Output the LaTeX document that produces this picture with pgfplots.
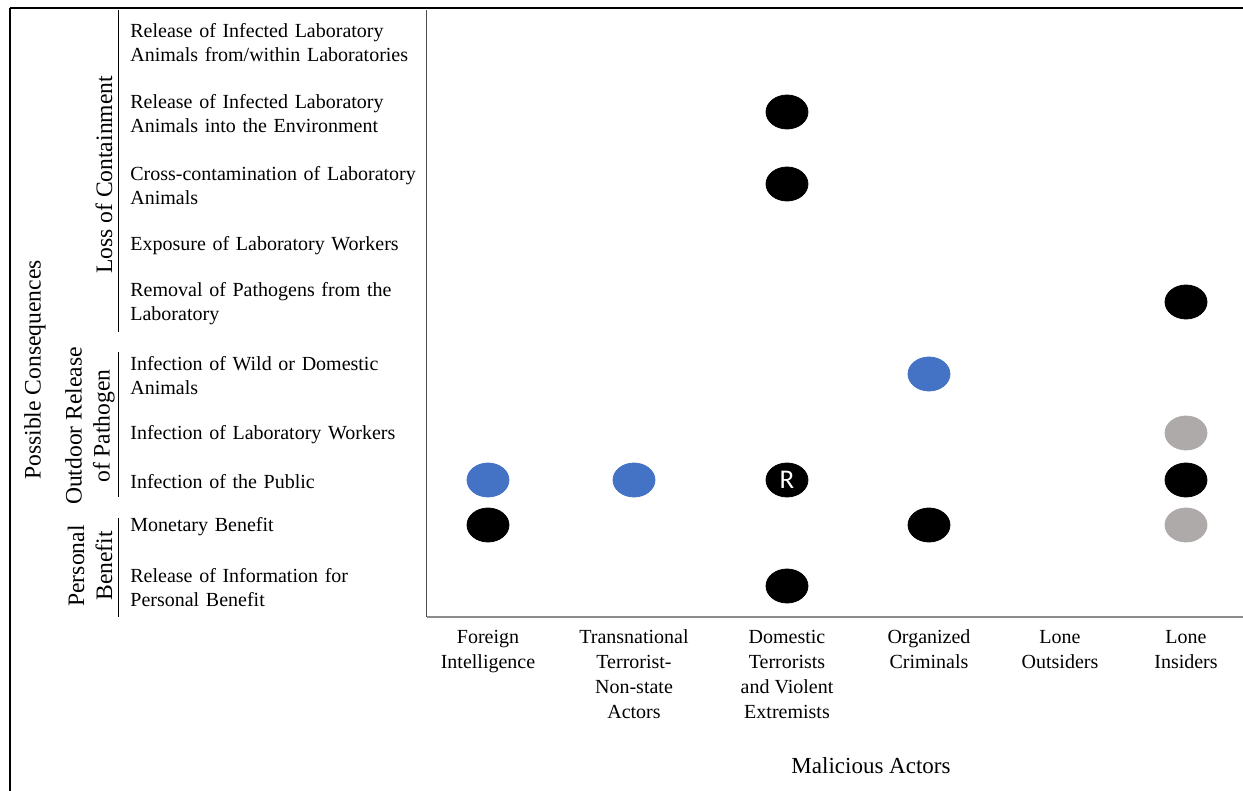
\documentclass[border=0pt]{standalone}
\usepackage{pgfplots}
\pgfplotsset{compat=1.18}
\usepackage{fontspec}
\setmainfont{Liberation Serif}
\newfontfamily\rfont{Carlito}
\definecolor{myblue}{HTML}{4472C4}
\definecolor{mygrey}{HTML}{AEAAAA}
\begin{document}
\begin{tikzpicture}
\useasboundingbox (0,0) rectangle (621.5pt,-395.5pt);
% outer frame (partial)
\draw[line width=1pt] (4.75pt,-4pt) -- (621.5pt,-4pt);
\draw[line width=1pt] (4.75pt,-4pt) -- (4.75pt,-395.5pt);
% group brackets
\draw[line width=0.5pt] (59pt,-5pt) -- (59pt,-166pt);
\draw[line width=0.5pt] (59pt,-176pt) -- (59pt,-248.5pt);
\draw[line width=0.5pt] (59pt,-259pt) -- (59pt,-308.5pt);
\begin{scope}[font=\rmfamily\fontsize{11.8}{14}\selectfont]
\node[rotate=90, align=center, inner sep=0pt] at (52pt,-87.5pt) {Loss of Containment};
\node[rotate=90, align=center, inner sep=0pt] at (45pt,-213pt) {Outdoor Release\\of Pathogen};
\node[rotate=90, align=center, inner sep=0pt] at (45pt,-283pt) {Personal\\Benefit};
\node[rotate=90, align=center, inner sep=0pt] at (17.5pt,-185pt) {Possible Consequences};
\end{scope}
\node[inner sep=0pt, font=\rmfamily\fontsize{11.5}{13}\selectfont] at (435.5pt,-383pt) {Malicious Actors};
\begin{axis}[
  at={(213.5pt,-308.5pt)}, anchor=south west,
  scale only axis, width=408pt, height=303.5pt,
  xmin=427, xmax=1243, ymin=-617, ymax=-10,
  axis x line*=bottom, axis y line*=left,
  x axis line style={draw=black!45, line width=1pt},
  y axis line style={draw=black!70, line width=0.5pt},
  major tick length=0pt,
  clip=false,
  xtick={488,634,787,929,1060,1186},
  xticklabels={{Foreign\\Intelligence},{Transnational\\Terrorist-\\Non-state\\Actors},{Domestic\\Terrorists\\and Violent\\Extremists},{Organized\\Criminals},{Lone\\Outsiders},{Lone\\Insiders}},
  xticklabel style={align=center, anchor=north, font=\rmfamily\fontsize{10}{12.5}\selectfont, yshift=-3pt},
  ytick={-41,-112,-184,-244,-302,-374,-433,-480,-525,-586},
  yticklabels={{Release of Infected Laboratory\\Animals from/within Laboratories},
    {Release of Infected Laboratory\\Animals into the Environment},
    {Cross-contamination of Laboratory\\Animals},
    {Exposure of Laboratory Workers},
    {Removal of Pathogens from the\\Laboratory},
    {Infection of Wild or Domestic\\Animals},
    {Infection of Laboratory Workers},
    {Infection of the Public},
    {Monetary Benefit},
    {Release of Information for\\Personal Benefit}},
  yticklabel style={anchor=west, align=left, text width=148pt, inner sep=0pt, xshift=-148.5pt, yshift=-1pt, font=\rmfamily\fontsize{10}{12}\selectfont},
]
\addplot[only marks, mark=*, mark size=8.5pt, mark options={xscale=1.235, draw=black, fill=black}]
  coordinates {(787,-112) (787,-184) (1186,-302) (1186,-480) (488,-525) (929,-525) (787,-586)};
\addplot[only marks, mark=*, mark size=8.5pt, mark options={xscale=1.235, draw=myblue, fill=myblue}]
  coordinates {(929,-374) (488,-480) (634,-480)};
\addplot[only marks, mark=*, mark size=8.5pt, mark options={xscale=1.235, draw=mygrey, fill=mygrey}]
  coordinates {(1186,-433) (1186,-525)};
\addplot[only marks, mark=*, mark size=8.5pt, mark options={xscale=1.235, draw=black, fill=black},
  nodes near coords={\rfont\fontsize{13.5}{13.5}\selectfont R}, nodes near coords align=center,
  every node near coord/.append style={text=white, anchor=center}]
  coordinates {(787,-480)};
\end{axis}
\end{tikzpicture}
\end{document}
